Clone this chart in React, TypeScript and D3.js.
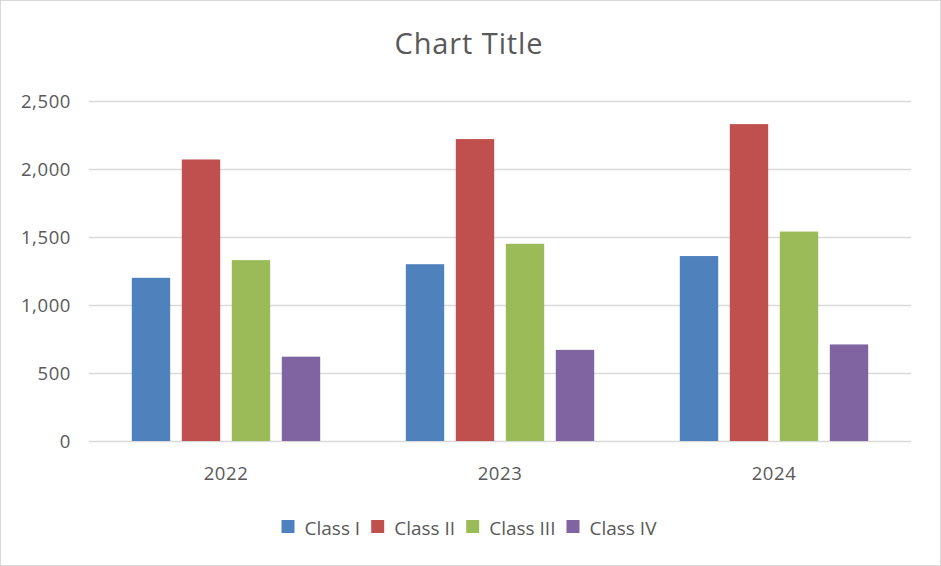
import React, { useEffect, useRef } from "react";
import * as d3 from "d3";

const years = ["2022", "2023", "2024"];
const seriesNames = ["Class I", "Class II", "Class III", "Class IV"];
const classI = [1200, 1300, 1360];
const classII = [2070, 2220, 2330];
const classIII = [1330, 1450, 1540];
const classIV = [620, 670, 710];
const yTicks = [0, 500, 1000, 1500, 2000, 2500];
const colors = ["#4F81BD", "#C0504D", "#9BBB59", "#8064A2"];

const W = 941;
const H = 566;
const FONT = "'Open Sans', 'Noto Sans', sans-serif";

export default function App() {
  const ref = useRef<SVGSVGElement | null>(null);

  useEffect(() => {
    const svg = d3.select(ref.current);
    svg.selectAll("*").remove();
    const values = [classI, classII, classIII, classIV];

    svg.append("rect").attr("x", 0).attr("y", 0).attr("width", W).attr("height", H).attr("fill", "#fff");
    svg.append("rect").attr("x", 0.5).attr("y", 0.5).attr("width", W - 1).attr("height", H - 1)
      .attr("fill", "none").attr("stroke", "#D9D9D9");

    const left = 89, right = 911, top = 101, bottom = 441;
    const x = d3.scaleBand<string>().domain(years).range([left, right]).padding(0);
    const xi = d3.scaleBand<string>().domain(seriesNames).range([0, x.bandwidth()])
      .paddingInner(0.232).paddingOuter(0.856);
    const y = d3.scaleLinear().domain([0, 2500]).range([bottom, top]);

    // title
    svg.append("text").attr("x", 469).attr("y", 54).attr("text-anchor", "middle")
      .attr("font-family", FONT).attr("font-size", 29).attr("fill", "#595959").attr("letter-spacing", 0.9)
      .text("Chart Title");

    // gridlines
    svg.append("g").selectAll("line").data(yTicks).join("line")
      .attr("x1", left).attr("x2", right)
      .attr("y1", (d) => Math.round(y(d)) + 0.5).attr("y2", (d) => Math.round(y(d)) + 0.5)
      .attr("stroke", "#D9D9D9").attr("stroke-width", 1.5);

    // y labels
    svg.append("g").selectAll("text").data(yTicks).join("text")
      .attr("x", 71).attr("y", (d) => y(d)).attr("dy", "0.36em").attr("text-anchor", "end")
      .attr("font-family", FONT).attr("font-size", 18.5).attr("fill", "#595959").attr("letter-spacing", 0.6)
      .text((d) => d3.format(",")(d));

    // bars
    const g = svg.append("g");
    years.forEach((yr, i) => {
      seriesNames.forEach((s, j) => {
        const v = values[j][i];
        g.append("rect")
          .attr("x", (x(yr) ?? 0) + (xi(s) ?? 0))
          .attr("y", y(v))
          .attr("width", xi.bandwidth())
          .attr("height", y(0) - y(v))
          .attr("fill", colors[j]);
      });
    });

    // x labels
    svg.append("g").selectAll("text").data(years).join("text")
      .attr("x", (d) => (x(d) ?? 0) + x.bandwidth() / 2).attr("y", 480).attr("text-anchor", "middle")
      .attr("font-family", FONT).attr("font-size", 18.5).attr("fill", "#595959").attr("letter-spacing", 0.6)
      .text((d) => d);

    // legend
    const leg = svg.append("g");
    let cx = 0;
    seriesNames.forEach((s, j) => {
      const ig = leg.append("g");
      ig.append("rect").attr("x", 0).attr("y", 520).attr("width", 13).attr("height", 13).attr("fill", colors[j]);
      const t = ig.append("text").attr("x", 23).attr("y", 535)
        .attr("font-family", FONT).attr("font-size", 19).attr("fill", "#595959").text(s);
      const tw = (t.node() as SVGTextElement).getComputedTextLength();
      ig.attr("transform", `translate(${cx},0)`);
      cx += 23 + tw + 11;
    });
    const total = cx - 11;
    leg.attr("transform", `translate(${469 - total / 2},0)`);
  }, []);

  return (
    <svg ref={ref} width={W} height={H} style={{ position: "absolute", left: 0, top: 0, display: "block" }} />
  );
}
